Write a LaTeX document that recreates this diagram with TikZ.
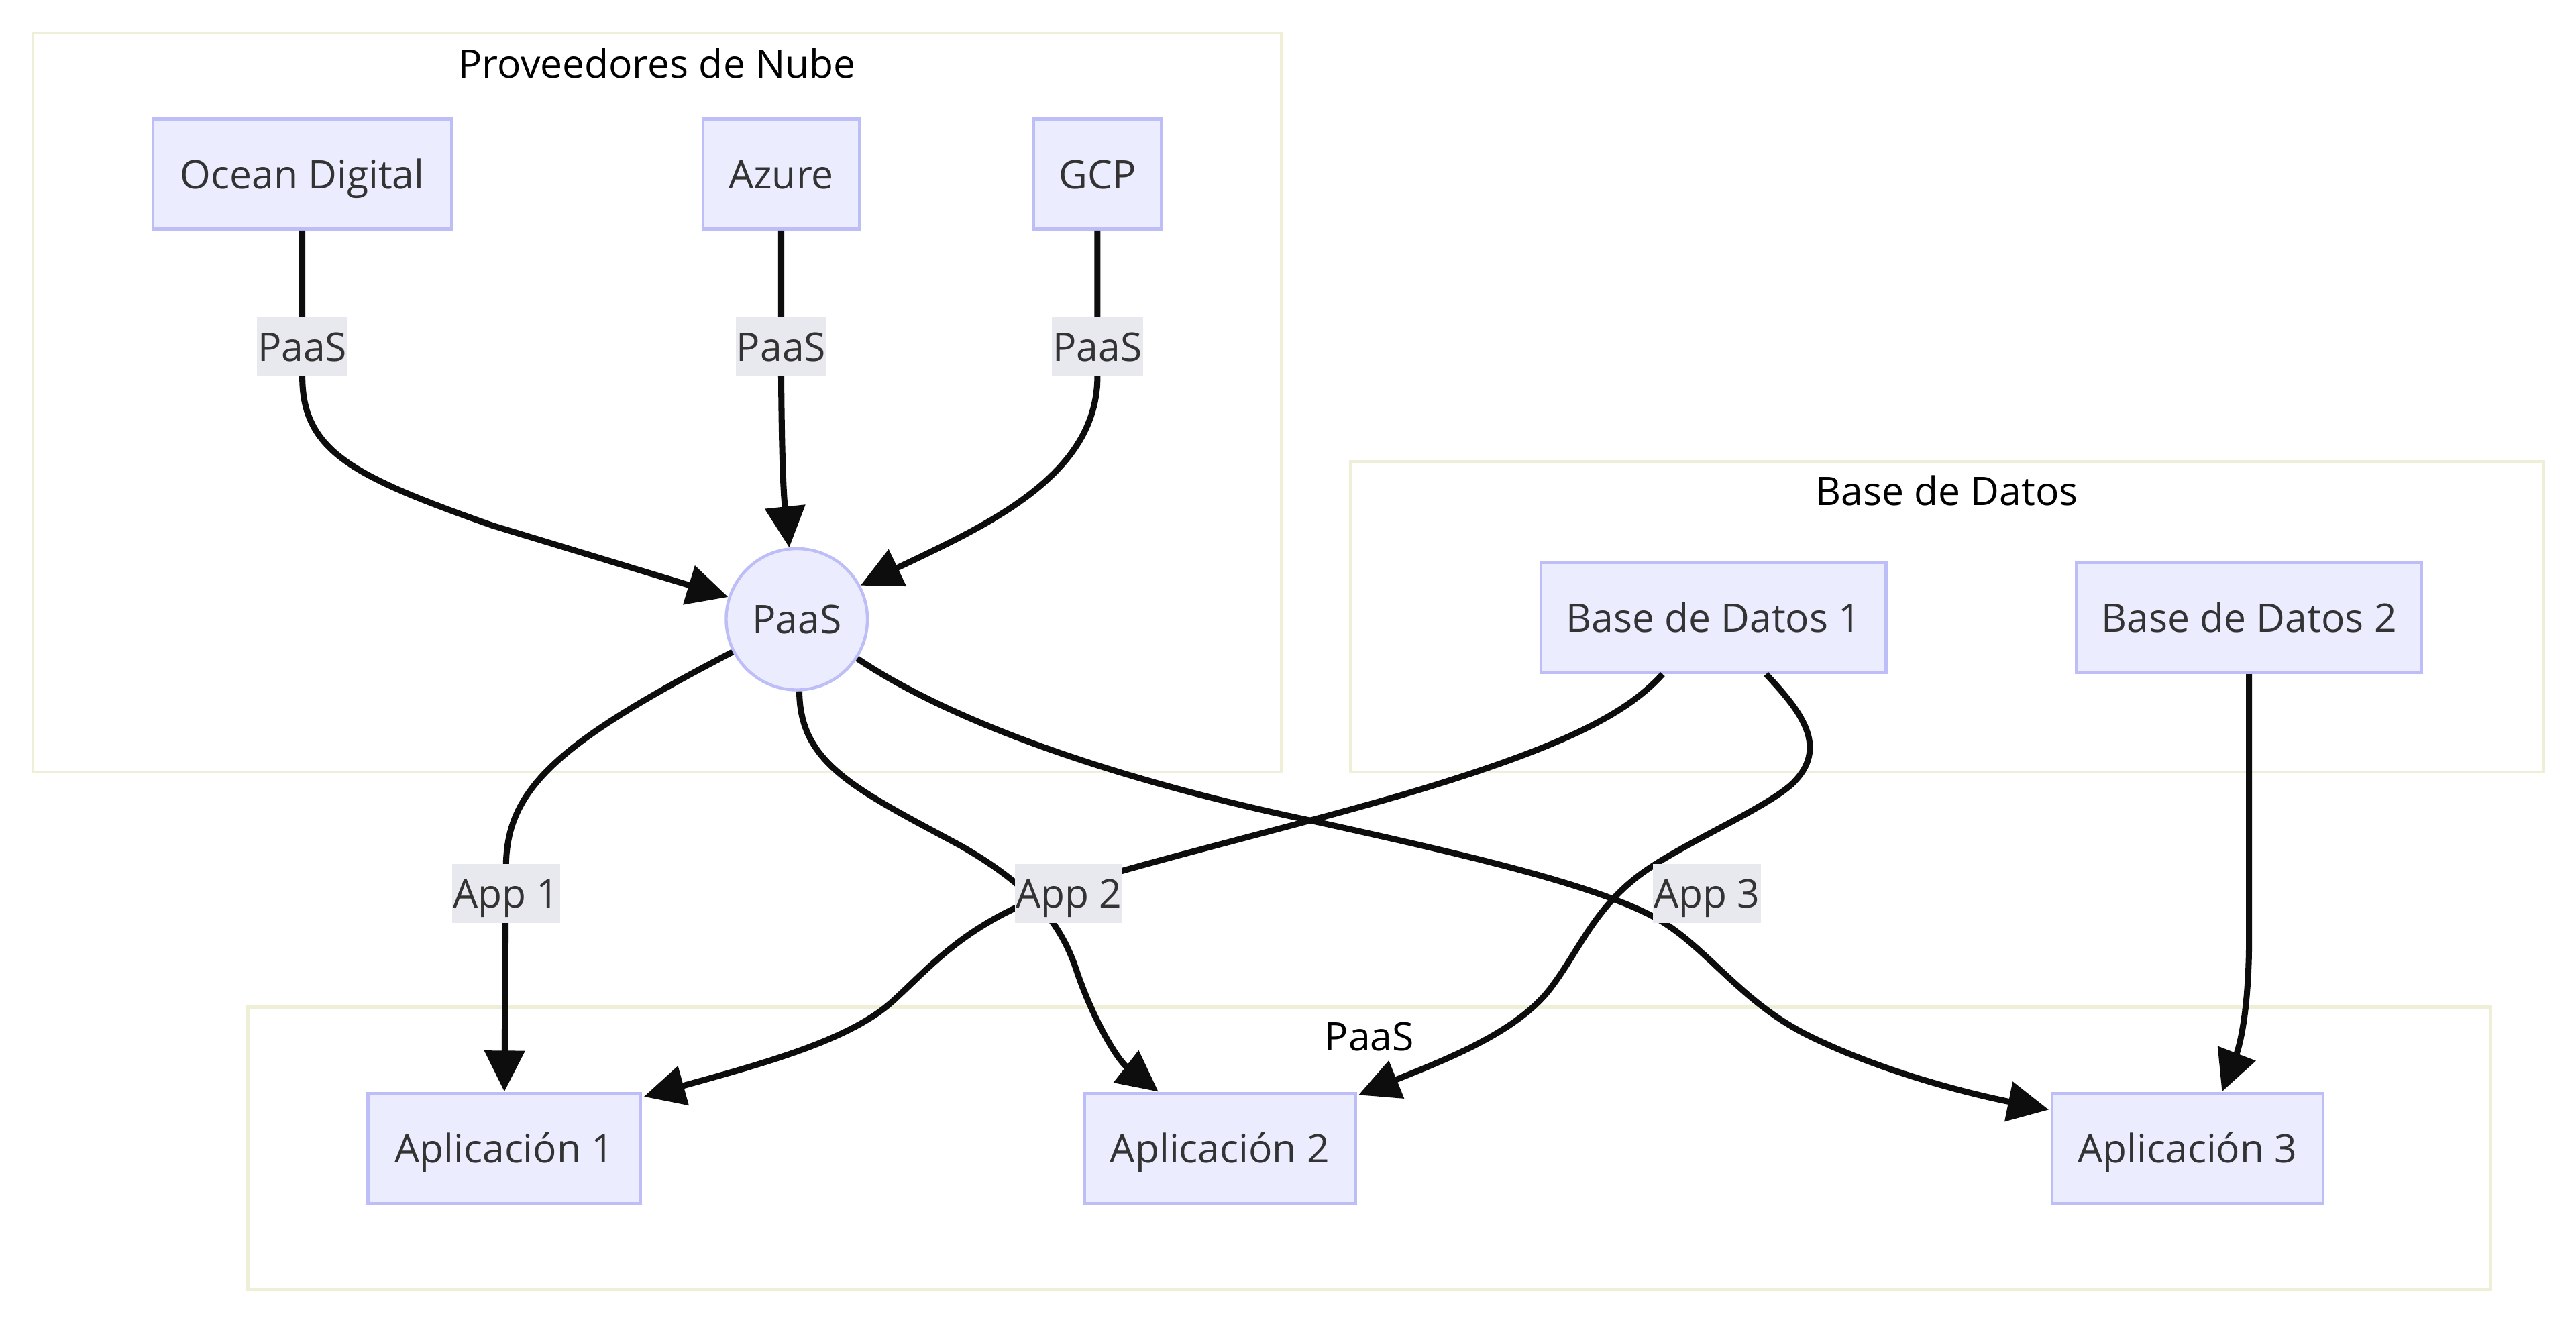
\documentclass[tikz,border=0pt]{standalone}
\usepackage{fontspec}
\setmainfont{Open Sans}
\usetikzlibrary{arrows.meta,calc}
\definecolor{nodefill}{HTML}{ECECFF}
\definecolor{nodeline}{HTML}{BDBDF7}
\definecolor{clusterline}{HTML}{EFEFD8}
\definecolor{edgecol}{HTML}{0D0D0D}
\definecolor{lblfill}{HTML}{E8E8EF}
\definecolor{txt}{HTML}{333333}
\begin{document}
\begin{tikzpicture}[x=1pt,y=-1pt,
  every node/.style={font=\fontsize{24}{28}\selectfont, text height=17.5pt, text depth=0pt},
  box/.style={draw=nodeline, fill=nodefill, line width=1.8pt, text=txt, minimum height=67pt, inner sep=0pt},
  circ/.style={draw=nodeline, fill=nodefill, line width=1.8pt, text=txt, circle, minimum size=86pt, inner sep=0pt},
  cluster/.style={draw=clusterline, fill=white, line width=2pt, inner sep=0pt},
  ctitle/.style={text=black, inner sep=0pt},
  elabel/.style={fill=lblfill, text=txt, inner xsep=0.5pt, inner ysep=0pt, minimum height=36pt},
  conn/.style={draw=edgecol, line width=3.7pt, -{Triangle[length=25pt,width=24pt]}}
]
\fill[white] (0,0) rectangle (1568,802);
\useasboundingbox (0,0) rectangle (1568,802);

% clusters
\node[cluster, minimum width=760pt, minimum height=450pt] (c1) at (400,245) {};
\node[ctitle] (t1) at (400,39) {Proveedores de Nube};
\node[cluster, minimum width=726pt, minimum height=189pt] (c2) at (1185,375.5) {};
\node[ctitle] (t2) at (1185,299) {Base de Datos};
\node[cluster, minimum width=1365pt, minimum height=172pt] (c3) at (833.5,699) {};
\node[ctitle] (t3) at (833.5,631) {PaaS};

% nodes
\node[box, minimum width=182pt] (od) at (184,106) {Ocean Digital};
\node[box, minimum width=95pt] (az) at (475.5,106) {Azure};
\node[box, minimum width=78pt] (gcp) at (668,106) {GCP};
\node[circ] (paas) at (485,377) {PaaS};
\node[box, minimum width=210pt] (bd1) at (1043,376) {Base de Datos 1};
\node[box, minimum width=210pt] (bd2) at (1369,376) {Base de Datos 2};
\node[box, minimum width=166pt] (a1) at (307,699) {Aplicación 1};
\node[box, minimum width=165pt] (a2) at (742.5,699) {Aplicación 2};
\node[box, minimum width=165pt] (a3) at (1331.5,699) {Aplicación 3};

% edges into PaaS
\draw[conn] (od.south) -- (184,229) .. controls (184,275) and (215,290) .. (300,320) -- (paas.162);
\draw[conn] (az.south) -- (475.5,229) .. controls (476,300) and (478,310) .. (paas.96);
\draw[conn] (gcp.south) -- (668,229) .. controls (668,290) and (600,320) .. (paas.28);

% PaaS to applications
\draw[conn] (paas.207) .. controls (340,452) and (308,480) .. (308,528) -- (a1.north);
\draw[conn] (paas.272) .. controls (487,465) and (520,480) .. (585,515)
  .. controls (625,538) and (645,560) .. (655,590)
  .. controls (665,620) and (680,645) .. ($(a2.north west)+(46,0)$);
\draw[conn] (paas.327) .. controls (580,440) and (680,475) .. (800,500)
  .. controls (900,522) and (975,540) .. (1010,560)
  .. controls (1040,578) and (1060,610) .. (1100,630)
  .. controls (1140,650) and (1190,664) .. ($(a3.north west)+(-1,11)$);

% databases to applications
\draw[conn] ($(bd1.south)+(-31,0)$) .. controls (990,435) and (950,455) .. (860,482)
  .. controls (800,500) and (700,524) .. (650,540)
  .. controls (590,560) and (570,585) .. (545,608)
  .. controls (520,632) and (470,646) .. ($(a1.north east)+(1,3)$);
\draw[conn] ($(bd1.south)+(32,0)$) .. controls (1095,432) and (1115,455) .. (1090,478)
  .. controls (1070,495) and (1020,515) .. (995,535)
  .. controls (970,555) and (960,580) .. (945,600)
  .. controls (925,628) and (880,645) .. ($(a2.north east)+(1,2)$);
\draw[conn] (bd2.south) -- (1369,570) .. controls (1369,620) and (1362,640) .. ($(a3.north)+(21,0)$);

% edge labels
\node[elabel] (l1) at (184,211) {PaaS};
\node[elabel] (l2) at (475.5,211) {PaaS};
\node[elabel] (l3) at (668,211) {PaaS};
\node[elabel] (l4) at (308,544) {App 1};
\node[elabel] (l5) at (650.5,544) {App 2};
\node[elabel] (l6) at (1039,544) {App 3};
\end{tikzpicture}
\end{document}
